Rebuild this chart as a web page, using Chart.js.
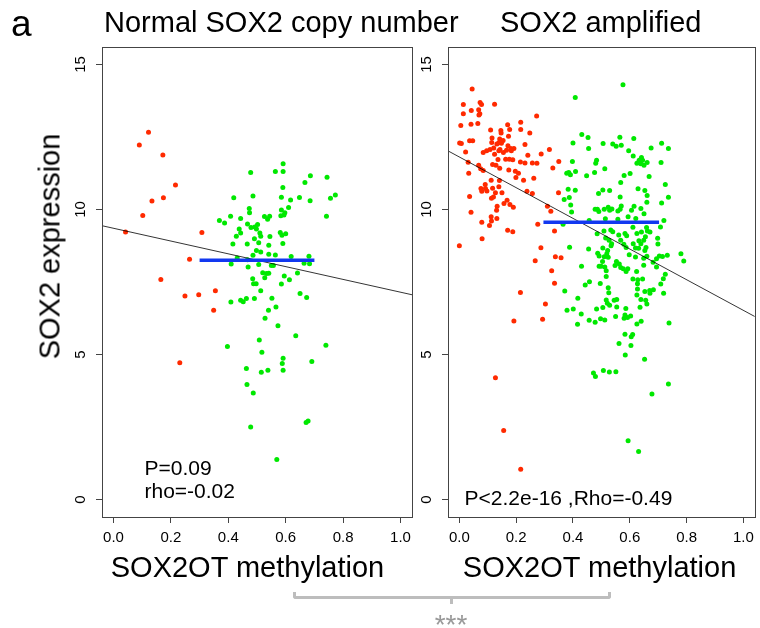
<!DOCTYPE html>
<html>
<head>
<meta charset="utf-8">
<script src="https://cdn.jsdelivr.net/npm/chart.js@4"></script>
<style>
  body { margin: 0; background: #fff; }
  #wrap { position: relative; width: 760px; height: 628px; overflow: hidden;
          font-family: 'Liberation Sans', Arial, sans-serif; color: #000; }
  canvas { position: absolute; top: 0; }
  .lbl { position: absolute; white-space: nowrap; font-size: 29px; line-height: 29px; }
  .brace { position: absolute; left: 293px; top: 592px; width: 312px; height: 4px;
           border: 3px solid #bdbdbd; border-top: none; border-radius: 0 0 3px 3px; }
  .brace-tip { position: absolute; left: 450px; top: 598px; width: 3px; height: 6px; background: #bdbdbd; }
  .stars { position: absolute; left: 401px; top: 611px; width: 100px; text-align: center;
           font-size: 28px; line-height: 28px; color: #999; }
</style>
</head>
<body>
<div id="wrap">
  <canvas id="chartNormal" width="420" height="628" style="left:0"></canvas>
  <canvas id="chartAmp" width="340" height="628" style="left:420px"></canvas>

  <div class="lbl" style="left:11px;top:5px;font-size:37px;line-height:37px">a</div>
  <div class="lbl" style="left:104px;top:8px">Normal SOX2 copy number</div>
  <div class="lbl" style="left:500px;top:8px">SOX2 amplified</div>
  <div class="lbl" style="left:-70px;top:231.5px;width:240px;text-align:center;transform:rotate(-90deg)">SOX2 expression</div>
  <div class="lbl" style="left:97.5px;top:552.5px;width:300px;text-align:center">SOX2OT methylation</div>
  <div class="lbl" style="left:449.6px;top:552.5px;width:300px;text-align:center">SOX2OT methylation</div>

  <div class="brace"></div>
  <div class="brace-tip"></div>
  <div class="stars">***</div>
</div>

<script>
const FONT = "'Liberation Sans', Arial, sans-serif";
Chart.defaults.font.family = FONT;
Chart.defaults.color = '#000';

// ── Axes ────
const xTicks = [0, 0.2, 0.4, 0.6, 0.8, 1.0];
const yTicks = [0, 5, 10, 15];

// ── Normal SOX2 copy number ────
const normRed = [
  [0.042, 9.22], [0.09, 12.22], [0.122, 12.66], [0.172, 11.88], [0.102, 9.79], [0.134, 10.29],
  [0.174, 10.40], [0.216, 10.84], [0.165, 7.59], [0.231, 4.72], [0.249, 7.02], [0.265, 8.28],
  [0.297, 7.06], [0.308, 9.21], [0.355, 7.20], [0.349, 6.53]
];
const normGreen = [
  [0.591, 11.58], [0.478, 11.27], [0.564, 11.31], [0.591, 11.31], [0.686, 11.16], [0.744, 11.11],
  [0.667, 10.93], [0.59, 10.76], [0.773, 10.50], [0.756, 10.39], [0.419, 10.40], [0.486, 10.46],
  [0.585, 10.42], [0.617, 10.33], [0.648, 10.41], [0.685, 10.30], [0.61, 10.07], [0.473, 10.03],
  [0.474, 9.89], [0.585, 9.98], [0.597, 9.89], [0.583, 9.78], [0.594, 9.81], [0.742, 9.77],
  [0.408, 9.77], [0.443, 9.69], [0.526, 9.76], [0.544, 9.77], [0.537, 9.66], [0.369, 9.62],
  [0.387, 9.53], [0.467, 9.50], [0.479, 9.38], [0.492, 9.40], [0.502, 9.48], [0.498, 9.33],
  [0.438, 9.33], [0.443, 9.19], [0.428, 9.08], [0.51, 9.19], [0.513, 9.08], [0.545, 9.07],
  [0.581, 9.21], [0.6, 9.16], [0.587, 9.11], [0.491, 8.99], [0.506, 8.85], [0.416, 8.81],
  [0.466, 8.81], [0.541, 8.77], [0.59, 8.83], [0.498, 8.59], [0.513, 8.53], [0.486, 8.42],
  [0.541, 8.46], [0.564, 8.43], [0.619, 8.38], [0.681, 8.39], [0.431, 8.33], [0.467, 8.27],
  [0.41, 8.12], [0.506, 8.10], [0.469, 8.02], [0.55, 8.07], [0.557, 8.07], [0.664, 8.15],
  [0.683, 8.13], [0.52, 7.82], [0.541, 7.80], [0.533, 7.79], [0.527, 7.65], [0.641, 7.81],
  [0.485, 7.61], [0.595, 7.71], [0.613, 7.58], [0.488, 7.44], [0.497, 7.44], [0.585, 7.43],
  [0.513, 7.20], [0.65, 7.10], [0.673, 6.97], [0.552, 6.94], [0.409, 6.81], [0.443, 6.87],
  [0.452, 6.82], [0.463, 6.93], [0.491, 6.93], [0.566, 6.64], [0.54, 6.53], [0.528, 6.25],
  [0.573, 5.99], [0.635, 5.65], [0.397, 5.28], [0.508, 5.50], [0.74, 5.32], [0.517, 5.08],
  [0.591, 4.87], [0.588, 4.69], [0.691, 4.76], [0.463, 4.52], [0.515, 4.39], [0.538, 4.46],
  [0.591, 4.46], [0.465, 3.97], [0.487, 3.67], [0.478, 2.50], [0.671, 2.66], [0.678, 2.71],
  [0.569, 1.38]
];
const normMedian = [[0.30, 8.25], [0.70, 8.25]];
const normFit = [[-0.04, 9.44], [1.04, 7.06]];
const normNotes = [['P=0.09', 475], ['rho=-0.02', 498]];

// ── SOX2 amplified ────
const ampRed = [
  [0.045, 14.15], [0.014, 13.62], [0.073, 13.69], [0.078, 13.62], [0.124, 13.63], [0.014, 13.30],
  [0.042, 13.41], [0.068, 13.44], [0.072, 13.30], [0.069, 13.26], [0.272, 13.22], [0.005, 12.89],
  [0.041, 12.94], [0.065, 12.96], [0.216, 13.01], [0.170, 12.92], [0.110, 12.74], [0.146, 12.72],
  [0.177, 12.76], [0.147, 12.64], [0.216, 12.76], [0.248, 12.64], [0.173, 12.52], [0.115, 12.46],
  [0.142, 12.43], [0.154, 12.38], [0.001, 12.29], [0.007, 12.27], [0.036, 12.37], [0.047, 12.37],
  [0.114, 12.31], [0.139, 12.30], [0.132, 12.26], [0.148, 12.28], [0.171, 12.20], [0.231, 12.24],
  [0.022, 11.98], [0.084, 11.96], [0.096, 12.02], [0.108, 12.07], [0.121, 12.12], [0.139, 12.02],
  [0.143, 12.07], [0.155, 11.96], [0.166, 12.04], [0.181, 12.10], [0.192, 12.10], [0.183, 12.02],
  [0.124, 11.90], [0.317, 12.07], [0.288, 11.91], [0.241, 11.87], [0.031, 11.63], [0.068, 11.52],
  [0.136, 11.72], [0.163, 11.73], [0.176, 11.73], [0.188, 11.71], [0.215, 11.64], [0.231, 11.60],
  [0.257, 11.60], [0.273, 11.59], [0.117, 11.55], [0.129, 11.52], [0.075, 11.40], [0.084, 11.34],
  [0.142, 11.42], [0.174, 11.36], [0.197, 11.32], [0.208, 11.25], [0.199, 11.10], [0.033, 11.25],
  [0.329, 11.43], [0.226, 11.01], [0.262, 11.08], [0.112, 11.01], [0.141, 11.00], [0.091, 10.86],
  [0.117, 10.73], [0.139, 10.78], [0.076, 10.72], [0.092, 10.72], [0.079, 10.63], [0.097, 10.64],
  [0.127, 10.58], [0.150, 10.58], [0.113, 10.39], [0.120, 10.43], [0.036, 10.45], [0.168, 10.32],
  [0.157, 10.21], [0.178, 10.17], [0.190, 10.08], [0.133, 10.11], [0.131, 9.97], [0.041, 9.90],
  [0.238, 10.63], [0.257, 10.55], [0.112, 9.75], [0.132, 9.69], [0.079, 9.56], [0.113, 9.60],
  [0.106, 9.45], [0.170, 9.28], [0.188, 9.23], [0.080, 8.99], [0.000, 8.75], [0.310, 10.11],
  [0.322, 9.94], [0.276, 9.49], [0.335, 9.26], [0.287, 8.68], [0.338, 8.37], [0.358, 8.34],
  [0.267, 8.23], [0.325, 7.89], [0.335, 7.46], [0.215, 7.14], [0.303, 6.74], [0.293, 6.22],
  [0.192, 6.16], [0.127, 4.20], [0.156, 2.38], [0.216, 1.05], [0.349, 10.58], [0.350, 11.65]
];
const ampGreen = [
  [0.576, 14.30], [0.408, 13.86], [0.431, 12.58], [0.453, 12.48], [0.400, 12.29], [0.455, 12.10],
  [0.506, 12.27], [0.540, 12.26], [0.552, 12.18], [0.570, 12.21], [0.565, 12.49], [0.614, 12.45],
  [0.596, 12.02], [0.612, 11.84], [0.641, 11.79], [0.645, 11.70], [0.633, 11.70], [0.625, 11.59],
  [0.639, 11.58], [0.650, 11.52], [0.661, 11.62], [0.675, 12.12], [0.712, 12.28], [0.736, 12.10],
  [0.710, 11.62], [0.398, 11.65], [0.483, 11.70], [0.480, 11.59], [0.512, 11.40], [0.409, 11.31],
  [0.378, 11.25], [0.385, 11.27], [0.391, 11.20], [0.448, 11.16], [0.476, 11.27], [0.580, 11.17],
  [0.601, 11.24], [0.668, 11.14], [0.568, 10.93], [0.725, 10.86], [0.383, 10.70], [0.408, 10.66],
  [0.505, 10.67], [0.529, 10.65], [0.629, 10.71], [0.653, 10.65], [0.369, 10.34], [0.387, 10.41],
  [0.490, 10.55], [0.566, 10.43], [0.661, 10.48], [0.736, 10.42], [0.660, 10.25], [0.712, 10.22],
  [0.392, 10.15], [0.395, 9.91], [0.478, 10.01], [0.486, 10.01], [0.491, 9.93], [0.510, 10.01],
  [0.524, 10.08], [0.529, 9.97], [0.537, 10.02], [0.558, 9.95], [0.566, 10.01], [0.570, 10.12],
  [0.606, 9.97], [0.615, 10.11], [0.639, 10.03], [0.650, 9.85], [0.594, 9.75], [0.621, 9.69],
  [0.514, 9.68], [0.558, 9.66], [0.457, 9.62], [0.365, 9.49], [0.720, 9.62], [0.708, 9.40],
  [0.485, 9.16], [0.509, 9.26], [0.533, 9.29], [0.540, 9.23], [0.561, 9.12], [0.583, 9.17],
  [0.589, 9.09], [0.611, 9.39], [0.625, 9.17], [0.641, 9.22], [0.659, 9.38], [0.662, 9.26],
  [0.671, 9.22], [0.655, 9.06], [0.649, 8.94], [0.698, 9.01], [0.699, 8.81], [0.515, 9.02],
  [0.527, 8.94], [0.536, 8.82], [0.534, 8.75], [0.568, 8.94], [0.579, 8.80], [0.632, 8.92],
  [0.639, 8.82], [0.612, 8.82], [0.388, 8.70], [0.455, 8.64], [0.505, 8.67], [0.522, 8.59],
  [0.587, 8.69], [0.620, 8.67], [0.631, 8.66], [0.653, 8.59], [0.657, 8.69], [0.487, 8.49],
  [0.519, 8.47], [0.492, 8.40], [0.510, 8.37], [0.524, 8.35], [0.598, 8.44], [0.620, 8.36],
  [0.649, 8.32], [0.660, 8.39], [0.704, 8.40], [0.715, 8.38], [0.732, 8.42], [0.780, 8.47],
  [0.790, 8.22], [0.694, 8.30], [0.682, 8.18], [0.504, 8.21], [0.553, 8.21], [0.563, 8.12],
  [0.548, 8.07], [0.430, 8.04], [0.492, 8.04], [0.499, 8.04], [0.512, 8.02], [0.568, 8.00],
  [0.577, 7.96], [0.593, 7.96], [0.649, 8.08], [0.694, 8.02], [0.517, 7.89], [0.587, 7.86],
  [0.624, 7.86], [0.725, 7.77], [0.718, 7.61], [0.517, 7.69], [0.611, 7.60], [0.628, 7.58],
  [0.645, 7.60], [0.443, 7.40], [0.458, 7.51], [0.496, 7.45], [0.627, 7.44], [0.709, 7.43],
  [0.524, 7.30], [0.627, 7.26], [0.670, 7.21], [0.683, 7.23], [0.371, 7.19], [0.719, 7.11],
  [0.526, 7.13], [0.653, 7.17], [0.417, 6.94], [0.379, 6.53], [0.401, 6.57], [0.429, 6.40],
  [0.416, 6.04], [0.457, 6.18], [0.478, 6.11], [0.497, 6.23], [0.512, 6.19], [0.483, 6.57],
  [0.505, 6.62], [0.517, 6.88], [0.521, 6.77], [0.529, 6.70], [0.545, 6.87], [0.554, 6.90],
  [0.554, 6.64], [0.550, 6.31], [0.586, 6.59], [0.583, 6.36], [0.580, 6.25], [0.592, 6.28],
  [0.603, 6.33], [0.636, 6.63], [0.639, 6.90], [0.656, 6.87], [0.660, 6.74], [0.625, 7.05],
  [0.671, 7.11], [0.625, 6.05], [0.640, 6.15], [0.738, 6.09], [0.583, 5.70], [0.605, 5.61],
  [0.610, 5.69], [0.562, 5.38], [0.604, 5.31], [0.584, 4.98], [0.652, 4.84], [0.472, 4.36],
  [0.479, 4.24], [0.507, 4.45], [0.528, 4.40], [0.551, 4.41], [0.736, 3.98], [0.678, 3.64],
  [0.594, 2.03], [0.631, 1.66]
];
const ampMedian = [[0.296, 9.56], [0.703, 9.56]];
const ampFit = [[-0.04, 12.02], [1.04, 6.31]];
const ampNotes = [['P<2.2e-16 ,Rho=-0.49', 505]];

const RED = '#ff2a00';
const GREEN = '#00e800';
const BLUE = '#1238f0';

const pts = arr => arr.map(([x, y]) => ({ x, y }));

// ── Box, rotated y labels and stats text (R style) ────
function framePlugin(notes, noteX) {
  return {
    id: 'frame',
    afterDraw(chart) {
      const { ctx, chartArea: a, scales } = chart;
      ctx.save();
      ctx.strokeStyle = '#444';
      ctx.lineWidth = 1;
      ctx.strokeRect(Math.round(a.left) + 0.5, Math.round(a.top) + 0.5,
                     Math.round(a.right - a.left), Math.round(a.bottom - a.top));

      ctx.fillStyle = '#000';
      ctx.font = `15px ${FONT}`;
      ctx.textAlign = 'center';
      ctx.textBaseline = 'middle';
      yTicks.forEach(v => {
        ctx.save();
        ctx.translate(a.left - 21, scales.y.getPixelForValue(v));
        ctx.rotate(-Math.PI / 2);
        ctx.fillText(String(v), 0, 0);
        ctx.restore();
      });

      ctx.font = `21px ${FONT}`;
      ctx.textAlign = 'left';
      ctx.textBaseline = 'alphabetic';
      notes.forEach(([txt, y]) => ctx.fillText(txt, a.left + noteX, y));
      ctx.restore();
    }
  };
}

function makeChart(id, red, green, median, fit, yWidth, padRight, notes, noteX) {
  const axisGrid = { drawOnChartArea: false, drawTicks: true, tickLength: 6, color: '#444', lineWidth: 1 };
  return new Chart(document.getElementById(id), {
    type: 'scatter',
    data: {
      datasets: [
        { data: pts(median), showLine: true, borderColor: BLUE, borderWidth: 3.5, pointRadius: 0 },
        { data: pts(fit), showLine: true, borderColor: '#000', borderWidth: 0.8, pointRadius: 0 },
        { data: pts(green), backgroundColor: GREEN, borderWidth: 0, pointRadius: 2.5 },
        { data: pts(red), backgroundColor: RED, borderWidth: 0, pointRadius: 2.5 }
      ]
    },
    options: {
      responsive: false,
      animation: false,
      devicePixelRatio: 1,
      events: [],
      layout: { padding: { top: 47, right: padRight, bottom: 0, left: 0 } },
      plugins: { legend: { display: false }, tooltip: { enabled: false } },
      scales: {
        x: {
          type: 'linear', min: -0.04, max: 1.04,
          afterBuildTicks: s => { s.ticks = xTicks.map(v => ({ value: v })); },
          afterFit: s => { s.height = 111; },
          ticks: { callback: v => v.toFixed(1), font: { size: 15 }, color: '#000',
                   padding: 6, autoSkip: false, minRotation: 0, maxRotation: 0 },
          grid: axisGrid,
          border: { display: false }
        },
        y: {
          type: 'linear', min: -0.6, max: 15.6,
          afterBuildTicks: s => { s.ticks = yTicks.map(v => ({ value: v })); },
          afterFit: s => { s.width = yWidth; },
          ticks: { display: false },
          grid: axisGrid,
          border: { display: false }
        }
      }
    },
    plugins: [framePlugin(notes, noteX)]
  });
}

// ── Init ───
makeChart('chartNormal', normRed, normGreen, normMedian, normFit, 102, 8, normNotes, 42.5);
makeChart('chartAmp', ampRed, ampGreen, ampMedian, ampFit, 28, 3, ampNotes, 16.5);
</script>
</body>
</html>
